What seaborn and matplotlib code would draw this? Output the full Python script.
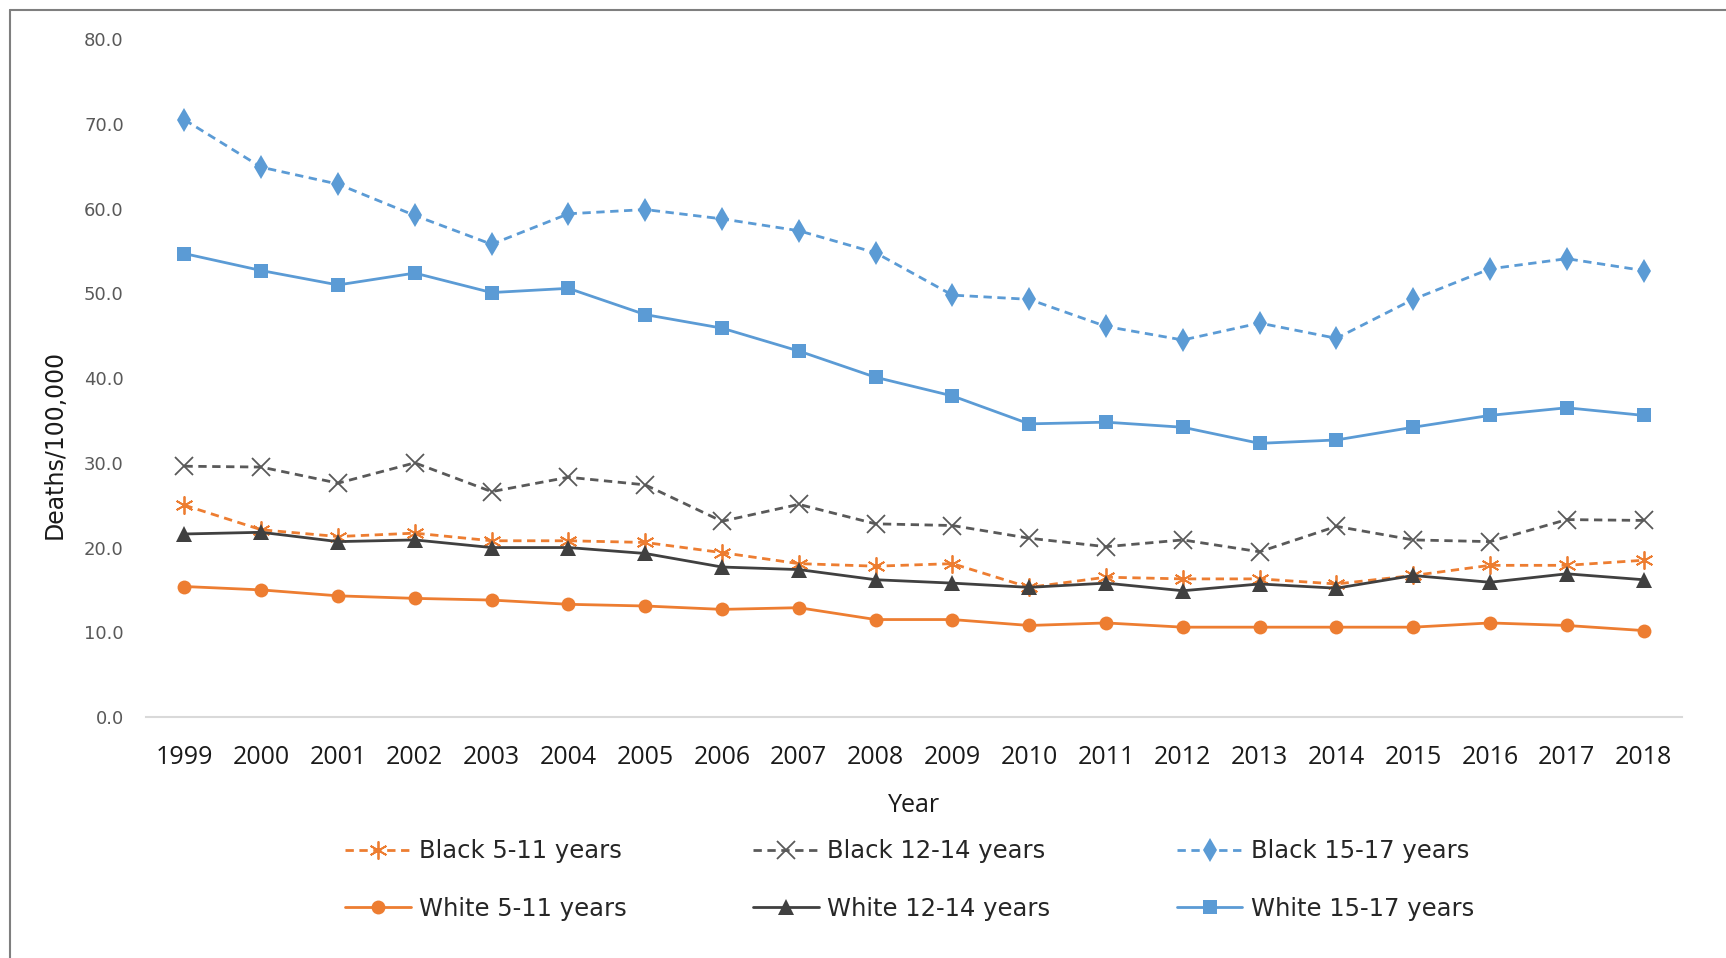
import matplotlib
matplotlib.use("Agg")
import matplotlib.pyplot as plt
from matplotlib.lines import Line2D
import seaborn as sns
import pandas as pd

years = list(range(1999, 2019))
black_5_11 = [25.0, 22.1, 21.3, 21.7, 20.8, 20.8, 20.6, 19.4, 18.1, 17.8,
              18.1, 15.3, 16.5, 16.3, 16.3, 15.7, 16.7, 17.9, 17.9, 18.5]
black_12_14 = [29.6, 29.5, 27.6, 30.0, 26.6, 28.3, 27.4, 23.1, 25.1, 22.8,
               22.6, 21.1, 20.1, 20.9, 19.5, 22.5, 20.9, 20.7, 23.3, 23.2]
black_15_17 = [70.5, 64.9, 62.9, 59.2, 55.8, 59.4, 59.9, 58.8, 57.4, 54.8,
               49.8, 49.3, 46.1, 44.5, 46.5, 44.7, 49.3, 52.9, 54.1, 52.7]
white_5_11 = [15.4, 15.0, 14.3, 14.0, 13.8, 13.3, 13.1, 12.7, 12.9, 11.5,
              11.5, 10.8, 11.1, 10.6, 10.6, 10.6, 10.6, 11.1, 10.8, 10.2]
white_12_14 = [21.6, 21.8, 20.7, 20.9, 20.0, 20.0, 19.3, 17.7, 17.4, 16.2,
               15.8, 15.3, 15.8, 14.9, 15.7, 15.2, 16.7, 15.9, 16.9, 16.2]
white_15_17 = [54.7, 52.7, 51.0, 52.4, 50.1, 50.6, 47.5, 45.9, 43.2, 40.1,
               37.9, 34.6, 34.8, 34.2, 32.3, 32.7, 34.2, 35.6, 36.5, 35.6]
series_names = ["Black 5-11 years", "Black 12-14 years", "Black 15-17 years",
                "White 5-11 years", "White 12-14 years", "White 15-17 years"]
y_ticks = [0, 10, 20, 30, 40, 50, 60, 70, 80]

series_values = [black_5_11, black_12_14, black_15_17,
                 white_5_11, white_12_14, white_15_17]
df = pd.concat([pd.DataFrame({"Year": years, "Rate": v, "Series": n})
                for n, v in zip(series_names, series_values)], ignore_index=True)

ORANGE = "#ED7D31"
GRAY = "#595959"
DGRAY = "#404040"
BLUE = "#5B9BD5"
styles = {
    "Black 5-11 years": dict(color=ORANGE, ls=(0, (3, 2)), marker=(6, 2, 0), ms=13, mew=1.3, mfc=ORANGE),
    "Black 12-14 years": dict(color=GRAY, ls=(0, (3, 2)), marker="x", ms=13, mew=1.3, mfc=GRAY),
    "Black 15-17 years": dict(color=BLUE, ls=(0, (3, 2)), marker="d", ms=12, mew=0, mfc=BLUE),
    "White 5-11 years": dict(color=ORANGE, ls="-", marker="o", ms=10, mew=0, mfc=ORANGE),
    "White 12-14 years": dict(color=DGRAY, ls="-", marker="^", ms=11, mew=0, mfc=DGRAY),
    "White 15-17 years": dict(color=BLUE, ls="-", marker="s", ms=10, mew=0, mfc=BLUE),
}

sns.set_theme(style="white")
plt.rcParams["font.family"] = ["DejaVu Sans"]

fig = plt.figure(figsize=(17.26, 9.58), dpi=100)
ax = fig.add_axes([0.0846, 0.2516, 0.8899, 0.7074])

handles = {}
for name in series_names:
    st = styles[name]
    sub = df[df["Series"] == name]
    sns.lineplot(data=sub, x="Year", y="Rate", ax=ax, color=st["color"],
                 linewidth=2.0, legend=False, errorbar=None)
    line = ax.lines[-1]
    line.set_linestyle(st["ls"])
    line.set_marker(st["marker"])
    line.set_markersize(st["ms"])
    line.set_markeredgewidth(st["mew"])
    line.set_markerfacecolor(st["mfc"])
    line.set_markeredgecolor(st["color"])
    handles[name] = Line2D([], [], color=st["color"], linestyle=st["ls"], linewidth=2.0,
                           marker=st["marker"], markersize=st["ms"],
                           markeredgewidth=st["mew"], markerfacecolor=st["mfc"],
                           markeredgecolor=st["color"])

ax.set_xlim(1998.5, 2018.5)
ax.set_ylim(0, 80)
ax.set_yticks(y_ticks)
ax.set_yticklabels([f"{v:.1f}" for v in y_ticks], fontsize=13, color=GRAY)
ax.set_xticks(years)
ax.set_xticklabels([str(y) for y in years], fontsize=18, color="#1a1a1a",
                   family=["Open Sans", "DejaVu Sans"])
ax.tick_params(axis="y", length=0, pad=16)
ax.tick_params(axis="x", length=0, pad=20)
ax.grid(False)
for s in ["top", "right", "left"]:
    ax.spines[s].set_visible(False)
ax.spines["bottom"].set_color("#d9d9d9")
ax.spines["bottom"].set_linewidth(1.5)
ax.set_xlabel("")
ax.set_ylabel("")

fig.text(0.0846 + 0.8899 / 2, 1 - 805 / 958, "Year", ha="center", va="center",
         fontsize=18, color="#1a1a1a", family=["Open Sans", "DejaVu Sans"])
fig.text(55 / 1726, 1 - 444 / 958, "Deaths/100,000", rotation=90, ha="center",
         va="center", fontsize=17, color="#1a1a1a")

order = ["Black 5-11 years", "White 5-11 years", "Black 12-14 years",
         "White 12-14 years", "Black 15-17 years", "White 15-17 years"]
fig.legend([handles[n] for n in order], order, ncol=3, loc="center",
           bbox_to_anchor=(0.527, 1 - 880 / 958), frameon=False, fontsize=17.5,
           handlelength=2.7, handletextpad=0.35, columnspacing=5.2,
           labelspacing=1.36)

# outer frame (left and top edges)
fig.add_artist(Line2D([9.5 / 1726, 9.5 / 1726], [0, 1 - 10 / 958],
                      transform=fig.transFigure, color="#7f7f7f", linewidth=1.5))
fig.add_artist(Line2D([9.5 / 1726, 1], [1 - 10 / 958, 1 - 10 / 958],
                      transform=fig.transFigure, color="#7f7f7f", linewidth=1.5))

fig.savefig("out.png", dpi=100, facecolor="white")
